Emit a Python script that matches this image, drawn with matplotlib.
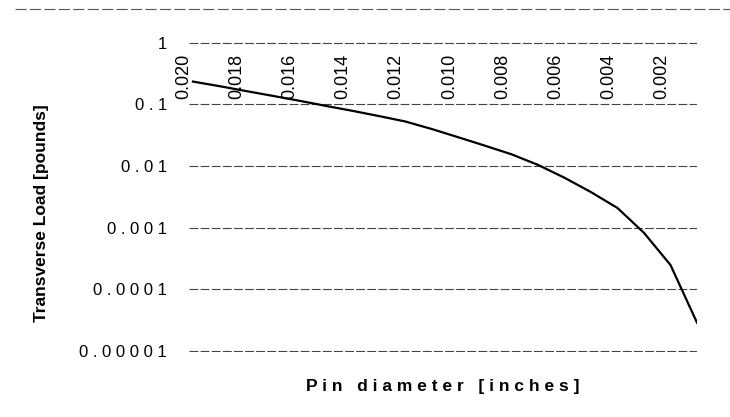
import numpy as np
import matplotlib
matplotlib.use("Agg")
import matplotlib.pyplot as plt
import matplotlib.transforms as mtransforms
from matplotlib.lines import Line2D

plt.rcParams['font.family'] = ['Liberation Sans', 'DejaVu Sans']

# pin diameter [inches] and transverse load [pounds]
diameter = [0.020, 0.019, 0.018, 0.017, 0.016, 0.015, 0.014, 0.013, 0.012, 0.011,
            0.010, 0.009, 0.008, 0.007, 0.006, 0.005, 0.004, 0.003, 0.002, 0.001]
load = [0.235, 0.198, 0.165, 0.138, 0.115, 0.095, 0.079, 0.065, 0.053, 0.040,
        0.0294, 0.0215, 0.0156, 0.0105, 0.0065, 0.0038, 0.0021, 0.00083, 0.00025, 0.000029]

x_ticks = [0.020, 0.018, 0.016, 0.014, 0.012, 0.010, 0.008, 0.006, 0.004, 0.002]
x_labels = ["0.020", "0.018", "0.016", "0.014", "0.012", "0.010", "0.008", "0.006", "0.004", "0.002"]
y_ticks = [1, 0.1, 0.01, 0.001, 0.0001, 0.00001]
y_labels = ["1", "0.1", "0.01", "0.001", "0.0001", "0.00001"]

fig = plt.figure(figsize=(7.3, 4.17), dpi=100)
ax = fig.add_axes([0.2589, 0.1559, 0.6959, 0.7434])

ax.plot(diameter, load, color="black", linewidth=1.6)

ax.set_yscale("log")
ax.set_ylim(0.0000097, 1.03)
ax.set_xlim(0.02015, 0.001)

ax.set_yticks(y_ticks)
ax.set_yticklabels([" ".join(s) for s in y_labels], fontsize=12)
ax.minorticks_off()
ax.tick_params(axis="y", length=0, pad=16)

ax.set_xticks(x_ticks)
ax.set_xticklabels(x_labels, fontsize=13, rotation=90)
ax.tick_params(axis="x", top=True, labeltop=True, bottom=False, labelbottom=False,
               length=0, pad=-41)
shift = mtransforms.ScaledTranslation(-0.09, 0, fig.dpi_scale_trans)
for lab in ax.get_xticklabels():
    lab.set_transform(lab.get_transform() + shift)

ax.grid(axis="y", color="#444444", linestyle=(0, (8, 2)), linewidth=0.8)
ax.grid(axis="x", visible=False)
for s in ax.spines.values():
    s.set_visible(False)

fig.text(0.057, 0.49, "Transverse Load [pounds]", rotation=90, fontsize=12.5,
         fontweight="bold", ha="center", va="center")
fig.text(0.607, 0.072, "P i n   d i a m e t e r   [ i n c h e s ]", fontsize=12.5,
         fontweight="bold", ha="center", va="center")

fig.add_artist(Line2D([0.02, 1.0], [0.979, 0.979], transform=fig.transFigure,
                      color="#555555", linewidth=0.8, linestyle=(0, (10, 3))))

fig.savefig("out.png", dpi=100)
